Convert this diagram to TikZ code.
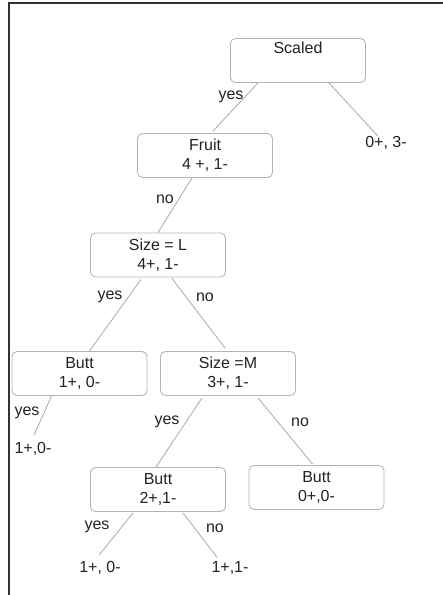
\documentclass[tikz,border=0pt]{standalone}
\usepackage{fontspec}
\setmainfont{Liberation Sans}
\usetikzlibrary{calc}
\definecolor{boxgray}{HTML}{B4B4B4}
\definecolor{edgegray}{HTML}{A8A8A8}
\definecolor{txt}{HTML}{222222}
\begin{document}
\begin{tikzpicture}[x=1pt,y=-1pt,
  font=\fontsize{16}{19}\selectfont, text=txt,
  treebox/.style={draw=boxgray, line width=0.9pt, rounded corners=5pt,
    minimum width=135pt, minimum height=44pt, align=center, inner sep=0pt},
  leaf/.style={inner sep=1pt},
  lbl/.style={inner sep=0pt},
  edge/.style={draw=edgegray, line width=0.8pt}]
\useasboundingbox (0,0) rectangle (443,595);
\draw[line width=1.8pt, black!80] (9,595) -- (9,3) -- (443,3);

% boxes
\node[treebox] (scaled) at (298,60.5) {Scaled\\\strut};
\node[treebox] (fruit) at (205,155.5) {Fruit\\4 +, 1-};
\node[treebox] (sizeL) at (158,255) {Size = L\\4+, 1-};
\node[treebox] (butt1) at (79.5,373.5) {Butt\\1+, 0-};
\node[treebox] (sizeM) at (228,373.5) {Size =M\\3+, 1-};
\node[treebox] (butt2) at (158,489.5) {Butt\\2+,1-};
\node[treebox] (butt3) at (316.5,487.5) {Butt\\0+,0-};

% leaves
\node[leaf] (l1) at (386,143) {0+, 3-};
\node[leaf] (l2) at (33,449) {1+,0-};
\node[leaf] (l3) at (100,568) {1+, 0-};
\node[leaf] (l4) at (230,568) {1+,1-};

% edges
\draw[edge] ($(scaled.south)+(-40,0)$) -- ($(fruit.north)+(8,-2)$);
\draw[edge] ($(scaled.south)+(31,0)$) -- ($(l1.north)+(-8,1)$);
\draw[edge] ($(fruit.south)+(-13,0)$) -- (sizeL.north);
\draw[edge] ($(sizeL.south)+(-17,2)$) -- ($(butt1.north)+(10,0)$);
\draw[edge] ($(sizeL.south)+(14,1)$) -- ($(sizeM.north)+(-3,-3)$);
\draw[edge] ($(butt1.south)+(-28,0)$) -- ($(l2.north)+(1,-6)$);
\draw[edge] ($(sizeM.south)+(-26,2)$) -- ($(butt2.north)+(-2,0)$);
\draw[edge] ($(sizeM.south)+(30,2)$) -- ($(butt3.north)+(-4,-1)$);
\draw[edge] ($(butt2.south)+(-25,1)$) -- ($(l3.north)+(-1,-5)$);
\draw[edge] ($(butt2.south)+(25,1)$) -- ($(l4.north)+(-13,-3)$);

% labels
\node[lbl] (y1) at (231,97) {yes};
\node[lbl] (n1) at (165,199) {no};
\node[lbl] (y2) at (110,297) {yes};
\node[lbl] (n2) at (205,297) {no};
\node[lbl] (y3) at (27,413) {yes};
\node[lbl] (y4) at (167,422) {yes};
\node[lbl] (n3) at (300,422) {no};
\node[lbl] (y5) at (97,527) {yes};
\node[lbl] (n4) at (215,528) {no};
\end{tikzpicture}
\end{document}
